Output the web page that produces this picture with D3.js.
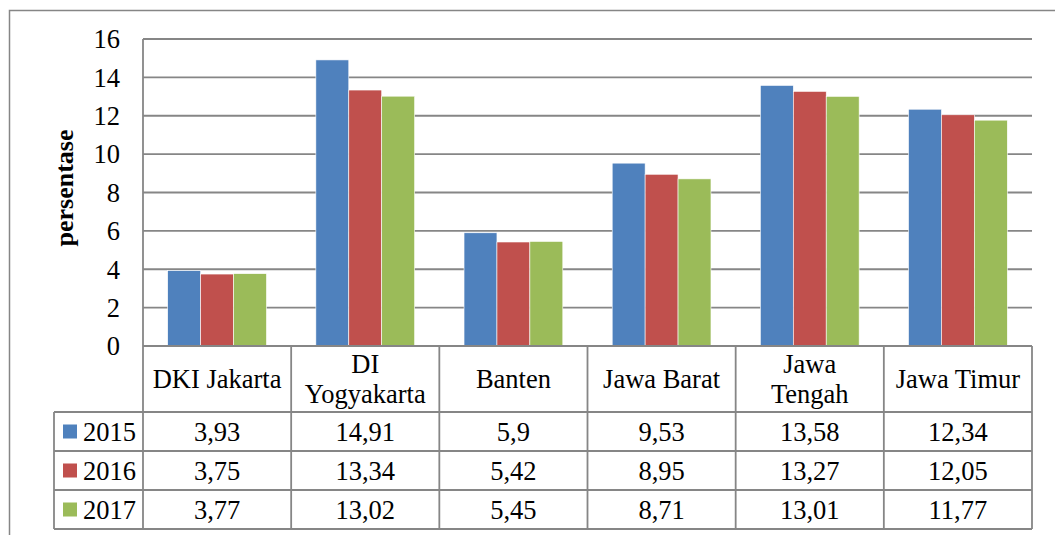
<!DOCTYPE html>
<html>
<head>
<meta charset="utf-8">
<script src="https://cdn.jsdelivr.net/npm/d3@7"></script>
<style>
  body { margin: 0; background: #fff; }
</style>
</head>
<body>
<svg id="chart" width="1055" height="535"></svg>
<script>
// data
const provinces = ['DKI Jakarta', 'DI Yogyakarta', 'Banten', 'Jawa Barat', 'Jawa Tengah', 'Jawa Timur'];
const provinceLines = [['DKI Jakarta'], ['DI', 'Yogyakarta'], ['Banten'], ['Jawa Barat'], ['Jawa', 'Tengah'], ['Jawa Timur']];
const years = ['2015', '2016', '2017'];
const values2015 = [3.93, 14.91, 5.9, 9.53, 13.58, 12.34];
const values2016 = [3.75, 13.34, 5.42, 8.95, 13.27, 12.05];
const values2017 = [3.77, 13.02, 5.45, 8.71, 13.01, 11.77];
const yTicks = [0, 2, 4, 6, 8, 10, 12, 14, 16];
const colors = ['#4F81BD', '#C0504D', '#9BBB59'];

const series = [values2015, values2016, values2017];

const svg = d3.select('#chart');
const gridColor = '#868686';
const FONT = '"Liberation Serif", "Times New Roman", serif';
const FS = '26.5px';

const plot = { left: 143, right: 1032, top: 39, bottom: 346 };
const headerH = 66, rowH = 39, legendLeft = 54;

// outer chart border (top and left only visible)
svg.append('path')
  .attr('d', 'M9.5,535 V10.5 H1055')
  .attr('fill', 'none')
  .attr('stroke', gridColor)
  .attr('stroke-width', 1.5);

const x0 = d3.scaleBand()
  .domain(provinces)
  .range([plot.left, plot.right])
  .paddingInner(0)
  .paddingOuter(0);

const x1 = d3.scaleBand()
  .domain(years)
  .range([0, x0.bandwidth()])
  .paddingInner(0)
  .paddingOuter(0.75);

const y = d3.scaleLinear()
  .domain([0, 16])
  .range([plot.bottom, plot.top]);

// gridlines
svg.append('g')
  .selectAll('line')
  .data(yTicks)
  .join('line')
    .attr('x1', plot.left)
    .attr('x2', plot.right)
    .attr('y1', d => y(d))
    .attr('y2', d => y(d))
    .attr('stroke', gridColor)
    .attr('stroke-width', 1.8);

// y axis labels
svg.append('g')
  .selectAll('text')
  .data(yTicks)
  .join('text')
    .attr('x', 120)
    .attr('y', d => y(d))
    .attr('dy', '0.35em')
    .attr('text-anchor', 'end')
    .style('font-family', FONT)
    .style('font-size', FS)
    .text(d => d);

// y axis title
svg.append('text')
  .attr('transform', 'translate(73,188) rotate(-90)')
  .attr('text-anchor', 'middle')
  .style('font-family', FONT)
  .style('font-size', '26px')
  .style('font-weight', 'bold')
  .text('persentase');

// bars
const groups = svg.append('g')
  .selectAll('g')
  .data(provinces)
  .join('g')
    .attr('transform', d => `translate(${x0(d)},0)`);

groups.selectAll('rect')
  .data((d, i) => years.map((yr, j) => ({ yr, v: series[j][i], j })))
  .join('rect')
    .attr('x', d => x1(d.yr))
    .attr('width', x1.bandwidth())
    .attr('y', d => y(d.v))
    .attr('height', d => y(0) - y(d.v))
    .attr('fill', d => colors[d.j])
    .attr('stroke', '#fff')
    .attr('stroke-width', 0.6);

// axis line on the left
svg.append('line')
  .attr('x1', plot.left).attr('x2', plot.left)
  .attr('y1', plot.top).attr('y2', plot.bottom + headerH)
  .attr('stroke', gridColor).attr('stroke-width', 1.8);

// data table
const table = svg.append('g');
const tableBottom = plot.bottom + headerH + rowH * 3;

table.append('line')
  .attr('x1', plot.left).attr('x2', plot.right)
  .attr('y1', plot.bottom).attr('y2', plot.bottom)
  .attr('stroke', gridColor).attr('stroke-width', 1.8);

table.selectAll('line.row')
  .data(d3.range(4))
  .join('line')
    .attr('class', 'row')
    .attr('x1', legendLeft).attr('x2', plot.right)
    .attr('y1', i => plot.bottom + headerH + i * rowH)
    .attr('y2', i => plot.bottom + headerH + i * rowH)
    .attr('stroke', gridColor).attr('stroke-width', 1.8);

table.selectAll('line.col')
  .data(provinces)
  .join('line')
    .attr('class', 'col')
    .attr('x1', d => x0(d) + x0.bandwidth())
    .attr('x2', d => x0(d) + x0.bandwidth())
    .attr('y1', plot.bottom).attr('y2', tableBottom)
    .attr('stroke', gridColor).attr('stroke-width', 1.8);

table.append('line')
  .attr('x1', legendLeft).attr('x2', legendLeft)
  .attr('y1', plot.bottom + headerH).attr('y2', tableBottom)
  .attr('stroke', gridColor).attr('stroke-width', 1.8);

table.append('line')
  .attr('x1', plot.left).attr('x2', plot.left)
  .attr('y1', plot.bottom + headerH).attr('y2', tableBottom)
  .attr('stroke', gridColor).attr('stroke-width', 1.8);

// header labels
provinces.forEach((p, i) => {
  const lines = provinceLines[i];
  const cx = x0(p) + x0.bandwidth() / 2;
  const cy = plot.bottom + headerH / 2;
  const lh = 30;
  lines.forEach((ln, k) => {
    table.append('text')
      .attr('x', cx)
      .attr('y', cy + (k - (lines.length - 1) / 2) * lh)
      .attr('dy', '0.35em')
      .attr('text-anchor', 'middle')
      .style('font-family', FONT)
      .style('font-size', FS)
      .text(ln);
  });
});

// rows: legend key + values
years.forEach((yr, j) => {
  const cy = plot.bottom + headerH + j * rowH + rowH / 2;
  table.append('rect')
    .attr('x', 63).attr('y', cy - 7)
    .attr('width', 14).attr('height', 14)
    .attr('fill', colors[j]);
  table.append('text')
    .attr('x', 83).attr('y', cy)
    .attr('dy', '0.35em')
    .style('font-family', FONT)
    .style('font-size', FS)
    .text(yr);
  table.selectAll(null)
    .data(series[j])
    .join('text')
      .attr('x', (d, i) => x0(provinces[i]) + x0.bandwidth() / 2)
      .attr('y', cy)
      .attr('dy', '0.35em')
      .attr('text-anchor', 'middle')
      .style('font-family', FONT)
      .style('font-size', FS)
      .text(d => String(d).replace('.', ','));
});
</script>
</body>
</html>
